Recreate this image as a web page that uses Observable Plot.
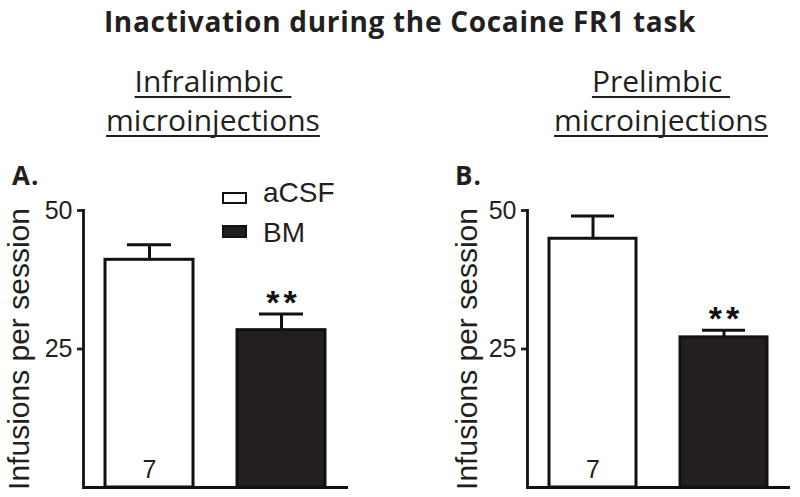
<!DOCTYPE html>
<html>
<head>
<meta charset="utf-8">
<script src="https://cdn.jsdelivr.net/npm/d3@7"></script>
<script src="https://cdn.jsdelivr.net/npm/@observablehq/plot@0.6"></script>
<style>
  body { margin: 0; background: #fff; }
  #root { position: relative; width: 800px; height: 497px; overflow: hidden; font-family: "Liberation Sans", Arial, sans-serif; color: #231f20; }
  .abs { position: absolute; white-space: pre; }
  .title { font-family: "Open Sans", sans-serif; font-weight: 700; font-size: 28px; line-height: 28px; left: 0; width: 800px; text-align: center; letter-spacing: 0.7px; }
  .sub { font-family: "Open Sans", sans-serif; font-size: 30px; line-height: 30px; text-align: center; text-decoration: underline; text-decoration-thickness: 2px; text-underline-offset: 4px; text-decoration-skip-ink: none; }
  .panel { font-family: "Open Sans", sans-serif; font-weight: 700; font-size: 26px; line-height: 26px; letter-spacing: 1px; }
  .legbox { position: absolute; box-sizing: border-box; width: 25px; border: 2.8px solid #111; }
  .legtxt { position: absolute; font-size: 28px; line-height: 28px; }
</style>
</head>
<body>
<div id="root"></div>
<script>
// ---- data ----
const groups = ["aCSF", "BM"];
const groupFill = ["#ffffff", "#231f20"];
const infralimbicMean = [41.1, 28.4];
const infralimbicSem = [2.7, 2.9];
const prelimbicMean = [44.9, 27.1];
const prelimbicSem = [4.1, 1.3];
const nLabels = ["7", ""];
const sigLabels = ["", "**"];
const yTicks = [25, 50];

const titleText = "Inactivation during the Cocaine FR1 task";
const panelTitles = [["Infralimbic ", "microinjections"], ["Prelimbic ", "microinjections"]];
const panelLetters = ["A.", "B."];
const yLabel = "Infusions per session";

const root = document.getElementById("root");

function panel(means, sems, opts) {
  const rows = groups.map((g, i) => ({
    g, mean: means[i], top: means[i] + sems[i], n: nLabels[i], sig: sigLabels[i]
  }));
  const svg = Plot.plot({
    width: 400,
    height: 347,
    marginTop: 60,
    marginBottom: 10,
    marginLeft: opts.marginLeft,
    marginRight: opts.marginRight,
    style: { fontFamily: "Liberation Sans, Arial, sans-serif", color: "#231f20", background: "transparent", overflow: "visible" },
    x: { domain: groups, paddingInner: 0.333, paddingOuter: 0.167, axis: null },
    y: { domain: [0, 50] },
    color: { domain: groups, range: groupFill },
    marks: [
      Plot.barY(rows, { x: "g", y: "mean", fill: d => d.g, stroke: "#111", strokeWidth: 3 }),
      Plot.ruleX(rows, { x: "g", y1: "mean", y2: "top", stroke: "#111", strokeWidth: 3 }),
      Plot.tickY(rows, { x: "g", y: "top", stroke: "#111", strokeWidth: 3, insetLeft: 22, insetRight: 22 }),
      Plot.text(rows, { x: "g", y: "top", text: "sig", dy: -11, dx: 2, fontSize: 34, fontWeight: "bold", fill: "#111" }),
      Plot.text(rows, { x: "g", y: 0, text: "n", dy: -18, fontSize: 25, fill: "#231f20" }),
      Plot.axisY({ ticks: yTicks, tickSize: 6, tickPadding: 5, fontSize: 25, strokeWidth: 2.8, label: null }),
      Plot.axisY({ ticks: [], tickSize: 0, fontSize: 30, label: yLabel, labelAnchor: "center", labelArrow: "none", labelOffset: opts.labelOffset }),
      Plot.frame({ anchor: "left", stroke: "#111", strokeWidth: 2.8 }),
      Plot.ruleY([0], { stroke: "#111", strokeWidth: 2.8 })
    ]
  });
  d3.select(svg).selectAll("text").filter(function () { return this.textContent === "**"; })
    .attr("letter-spacing", 4);
  return svg;
}

// title
const t = document.createElement("div");
t.className = "abs title"; t.style.top = "7px"; t.textContent = titleText;
root.appendChild(t);

const panelDefs = [
  { left: 0, marginLeft: 83, marginRight: 52, labelOffset: 76, subCenter: 213, letterLeft: 12, means: infralimbicMean, sems: infralimbicSem },
  { left: 400, marginLeft: 127, marginRight: 10, labelOffset: 72, subCenter: 661, letterLeft: 455, means: prelimbicMean, sems: prelimbicSem }
];

panelDefs.forEach((p, k) => {
  panelTitles[k].forEach((line, j) => {
    const s = document.createElement("div");
    s.className = "abs sub";
    s.style.left = (p.subCenter - 160) + "px";
    s.style.width = "320px";
    s.style.top = (66 + j * 39) + "px";
    s.textContent = line;
    root.appendChild(s);
  });
  const svg = panel(p.means, p.sems, p);
  svg.style.position = "absolute";
  svg.style.left = p.left + "px";
  svg.style.top = "150px";
  root.appendChild(svg);
  const L = document.createElement("div");
  L.className = "abs panel";
  L.style.left = p.letterLeft + "px";
  L.style.top = "162px";
  L.textContent = panelLetters[k];
  root.appendChild(L);
});

// legend (panel A)
const legendBoxTop = [192, 225];
const legendTextTop = [179, 219];
groups.forEach((g, i) => {
  const box = document.createElement("div");
  box.className = "legbox";
  box.style.left = "222px";
  box.style.top = legendBoxTop[i] + "px";
  box.style.height = (i === 0 ? 12 : 13) + "px";
  box.style.background = groupFill[i];
  root.appendChild(box);
  const lab = document.createElement("div");
  lab.className = "abs legtxt";
  lab.style.left = "263px";
  lab.style.top = legendTextTop[i] + "px";
  lab.textContent = g;
  root.appendChild(lab);
});
</script>
</body>
</html>
